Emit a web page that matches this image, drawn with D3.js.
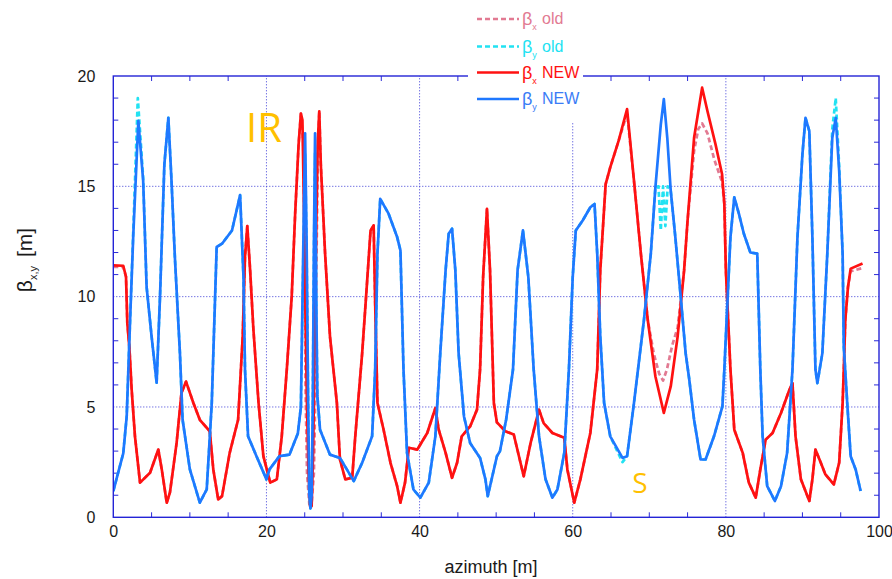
<!DOCTYPE html>
<html>
  <head>
    <meta charset="utf-8">
    <script src="https://d3js.org/d3.v7.min.js"></script>
    <title>Beta functions - old vs new lattice</title>
    <style>
      body {
        margin: 0px;
        background: #fff;
      }
      .domain {
        display: none;
      }
      .tick text {
        fill: #1a1a1a;
        font-size: 16px;
        font-family: "Liberation Sans", Arial, sans-serif;
      }
      .axis-label {
        fill: #1a1a1a;
        font-family: "Liberation Sans", Arial, sans-serif;
      }
      .grid {
        stroke: #3a3ad6;
        stroke-width: 1;
        stroke-dasharray: 1,2;
      }
      .minor {
        stroke: #2a2ad8;
        stroke-width: 1;
      }
      .curve {
        fill: none;
        stroke-width: 2.7;
        stroke-linejoin: round;
      }
    </style>
  </head>
  <body>
    <div id="viz1"></div>

    <script>

      // [azimuth m, beta m]
      const betaXNew = [
        [0, 11.42], [1.3, 11.4], [1.66, 10.9], [1.83, 8.8], [2.1, 7.7], [2.26, 6.7], [2.4, 5.78],
        [2.83, 3.67], [3.49, 1.57], [4.8, 2.02], [5.88, 3.07], [6.33, 2.17], [6.98, 0.66], [7.4, 1.13],
        [8.27, 3.37], [8.9, 5.63], [9.5, 6.15], [10.46, 5.18], [11.3, 4.42], [12.6, 3.9], [13.06, 2.17],
        [13.7, 0.81], [14.2, 0.96], [15.2, 2.92], [16.3, 4.42], [16.9, 8.19], [17.2, 11.8], [17.5, 13.2],
        [17.87, 11.2], [18.3, 8.5], [18.97, 5.18], [19.6, 2.77], [20.5, 1.57], [21.36, 1.72], [22.0, 3.67],
        [22.66, 6.7], [23.3, 10.0], [23.75, 13.76], [24.2, 16.9], [24.5, 18.3], [24.7, 18.0], [24.9, 14],
        [25.1, 9], [25.3, 5], [25.5, 2], [25.7, 0.5], [25.9, 0.5], [26.1, 3], [26.3, 8], [26.5, 13],
        [26.7, 17], [26.9, 18.4], [27.1, 16], [27.66, 11.95], [28.3, 8.19], [29.2, 5.18], [29.6, 2.62],
        [30.3, 1.72], [31.2, 1.79], [31.6, 3.67], [32.5, 7.43], [33.1, 10.44], [33.6, 13.0], [34.0, 13.23],
        [34.2, 9.7], [34.5, 5.18], [35.3, 3.97], [36.2, 2.47], [37.07, 1.41], [37.5, 0.66], [38.1, 1.57],
        [38.6, 3.15], [39.7, 3.07], [41.0, 3.82], [42.06, 4.95], [42.5, 3.97], [43.4, 2.92], [44.24, 1.79],
        [44.9, 2.47], [45.5, 3.67], [46.6, 4.12], [47.5, 4.88], [47.9, 6.7], [48.3, 10.9], [48.8, 13.98],
        [49.2, 11.2], [49.7, 5.18], [50.1, 4.3], [51.2, 3.9], [52.3, 3.75], [53.6, 1.86], [54.5, 3.37],
        [55.6, 4.88], [56.2, 4.27], [57.35, 3.82], [58.9, 3.6], [59.3, 2.17], [60.2, 0.66], [61.0, 1.72],
        [62.3, 3.82], [63.2, 6.7], [63.6, 11.2], [64.3, 15.1], [64.9, 15.86], [66.0, 17.07], [67.1, 18.5],
        [68.0, 15.26], [68.9, 11.95], [69.8, 8.94], [70.8, 6.38], [71.9, 4.73], [72.8, 5.93], [73.7, 8.19],
        [74.55, 11.2], [75.0, 13.45], [75.85, 17.2], [76.9, 19.47], [77.6, 18.4], [78.65, 16.9],
        [79.5, 15.56], [79.8, 14.2], [80.0, 11.2], [80.4, 8.19], [80.6, 6.7], [81.1, 3.97], [82.2, 2.92],
        [83.0, 1.57], [83.9, 0.89], [84.5, 2.17], [85.2, 3.52], [86.1, 3.82], [87.2, 4.73], [88.3, 5.78],
        [88.7, 6.08], [89.1, 3.67], [89.8, 1.72], [90.9, 0.74], [91.3, 1.72], [91.7, 3.07], [92.4, 2.47],
        [93.0, 1.94], [94.1, 1.49], [94.8, 2.47], [95.25, 5.18], [95.4, 6.7], [95.6, 8.94], [95.95, 10.44],
        [96.3, 11.27], [97.85, 11.5]
      ];

      const betaXOld = [
        [0, 11.35], [1.3, 11.35], [1.66, 10.9], [1.83, 8.8], [2.1, 7.7], [2.26, 6.7], [2.4, 5.78],
        [2.83, 3.67], [3.49, 1.57], [4.8, 2.02], [5.88, 3.07], [6.33, 2.17], [6.98, 0.66], [7.4, 1.13],
        [8.27, 3.37], [8.9, 5.63], [9.5, 6.15], [10.46, 5.18], [11.3, 4.42], [12.6, 3.9], [13.06, 2.17],
        [13.7, 0.81], [14.2, 0.96], [15.2, 2.92], [16.3, 4.42], [16.9, 8.19], [17.2, 11.8], [17.5, 13.2],
        [17.87, 11.2], [18.3, 8.5], [18.97, 5.18], [19.6, 2.77], [20.5, 1.57], [21.36, 1.72], [22.0, 3.67],
        [22.66, 6.7], [23.3, 10.0], [23.75, 13.76], [24.2, 16.9], [24.5, 18.3], [24.8, 17.0], [25.0, 12],
        [25.1, 6], [25.3, 2], [25.6, 0.6], [25.9, 0.6], [26.2, 2], [26.4, 6], [26.55, 12], [26.75, 17.2],
        [26.9, 18.4], [27.1, 16], [27.66, 11.95], [28.3, 8.19], [29.2, 5.18], [29.6, 2.62],
        [30.3, 1.72], [31.2, 1.79], [31.6, 3.67], [32.5, 7.43], [33.1, 10.44], [33.6, 13.0], [34.0, 13.23],
        [34.2, 9.7], [34.5, 5.18], [35.3, 3.97], [36.2, 2.47], [37.07, 1.41], [37.5, 0.66], [38.1, 1.57],
        [38.6, 3.15], [39.7, 3.07], [41.0, 3.82], [42.06, 4.95], [42.5, 3.97], [43.4, 2.92], [44.24, 1.79],
        [44.9, 2.47], [45.5, 3.67], [46.6, 4.12], [47.5, 4.88], [47.9, 6.7], [48.3, 10.9], [48.8, 13.98],
        [49.2, 11.2], [49.7, 5.18], [50.1, 4.3], [51.2, 3.9], [52.3, 3.75], [53.6, 1.86], [54.5, 3.37],
        [55.6, 4.88], [56.2, 4.27], [57.35, 3.82], [58.9, 3.6], [59.3, 2.17], [60.2, 0.66], [61.0, 1.72],
        [62.3, 3.82], [63.2, 6.7], [63.6, 11.2], [64.3, 15.1], [64.9, 15.86], [66.0, 17.07], [67.1, 18.3],
        [68.0, 15.26], [68.9, 11.95], [69.8, 8.94], [70.6, 7.4], [71.3, 6.5], [71.8, 6.2], [72.3, 6.7],
        [73.0, 7.8], [73.7, 8.6], [74.55, 11.2], [75.0, 13.45], [75.85, 16.6], [76.4, 17.6], [76.9, 17.85],
        [77.6, 17.4], [78.5, 16.2], [79.5, 15.2], [79.8, 14.2], [80.0, 11.2], [80.4, 8.19], [80.6, 6.7],
        [81.1, 3.97], [82.2, 2.92], [83.0, 1.57], [83.9, 0.89], [84.5, 2.17], [85.2, 3.52], [86.1, 3.82],
        [87.2, 4.73], [88.3, 5.78], [88.7, 6.08], [89.1, 3.67], [89.8, 1.72], [90.9, 0.74], [91.3, 1.72],
        [91.7, 3.07], [92.4, 2.47], [93.0, 1.94], [94.1, 1.49], [94.8, 2.47], [95.25, 5.18], [95.4, 6.7],
        [95.6, 8.94], [95.95, 10.44], [96.3, 11.15], [97.85, 11.3]
      ];

      const betaYNew = [
        [0, 1.19], [1.3, 2.9], [1.75, 4.57], [2.18, 8.8], [2.6, 12.7], [3.27, 17.97], [3.9, 15.26],
        [4.35, 10.44], [5.0, 8.2], [5.66, 6.1], [6.1, 10], [6.67, 16.0], [7.19, 18.1], [7.6, 15.26],
        [8.04, 11.8], [8.7, 7.45], [9.05, 4.42], [10.0, 2.17], [11.3, 0.66], [12.2, 1.26], [12.86, 5.18],
        [13.5, 12.25], [14.2, 12.4], [15.5, 13.0], [16.56, 14.6], [17.0, 10.9], [17.2, 6.7], [17.6, 3.67],
        [18.7, 2.77], [20.0, 1.72], [20.4, 2.17], [21.7, 2.77], [23.0, 2.84], [24.1, 3.8], [24.5, 5.0],
        [24.8, 12], [25.05, 17.4], [25.25, 12.4], [25.45, 5], [25.6, 1.0], [25.75, 0.4], [25.9, 1.0],
        [26.05, 5], [26.2, 12.4], [26.35, 17.4], [26.5, 10], [26.65, 5.5], [27.0, 3.97], [28.3, 2.84],
        [29.6, 2.69], [30.5, 2.17], [31.4, 1.64], [32.5, 2.47], [33.8, 3.67], [34.2, 6.7], [34.5, 11.95],
        [34.86, 14.43], [35.95, 13.76], [37.07, 12.7], [37.5, 12.1], [37.9, 6.7], [38.36, 2.92],
        [39.2, 1.26], [40.1, 0.89], [41.2, 1.57], [42.06, 3.67], [42.7, 7.43], [43.4, 11.2], [43.8, 12.85],
        [44.24, 13.08], [44.67, 11.2], [45.1, 7.43], [45.8, 4.57], [46.6, 3.37], [47.9, 2.69], [48.6, 1.72],
        [48.9, 0.96], [49.5, 1.86], [50.1, 2.77], [50.5, 3.0], [51.3, 4.42], [52.2, 6.7], [52.8, 11.2],
        [53.5, 13.0], [54.2, 10.9], [54.9, 6.7], [55.6, 3.67], [56.45, 1.72], [57.35, 0.89], [58.0, 1.26],
        [58.9, 2.92], [59.5, 6.7], [60.0, 10.9], [60.4, 13.0], [61.3, 13.45], [62.3, 14.05], [62.85, 14.2],
        [63.2, 11.95], [63.6, 8.19], [64.1, 5.18], [64.9, 3.67], [66.5, 2.69], [67.1, 2.77], [68.0, 5.18],
        [69.3, 8.94], [70.2, 11.95], [70.8, 14.96], [71.5, 17.8], [71.9, 18.95], [72.35, 17.2], [72.8, 14.8],
        [73.4, 12.7], [74.1, 10.0], [74.75, 7.43], [75.2, 6.3], [75.85, 4.42], [76.7, 2.62], [77.35, 2.62],
        [78.45, 3.67], [79.55, 5.03], [79.8, 6.7], [80.2, 9.7], [80.6, 12.7], [81.1, 14.5], [81.7, 13.76],
        [82.35, 12.85], [83.2, 12.0], [84.1, 11.95], [84.5, 6.7], [84.8, 3.67], [85.4, 1.41], [86.4, 0.74],
        [87.2, 1.41], [88.0, 2.92], [88.7, 6.7], [89.35, 12.7], [90.0, 16.46], [90.4, 18.1], [90.9, 17.5],
        [91.3, 12.7], [91.7, 6.7], [91.95, 6.08], [92.6, 7.43], [93.25, 11.95], [93.9, 17.2], [94.35, 18.1],
        [94.8, 15.7], [95.25, 11.95], [95.4, 7.73], [95.85, 5.18], [96.3, 2.77], [96.95, 2.17], [97.6, 1.19]
      ];

      const betaYOld = [
        [0, 1.19], [1.3, 2.9], [1.75, 4.57], [2.18, 8.8], [2.6, 12.9], [3.2, 19.0], [3.9, 15.4],
        [4.35, 10.44], [5.0, 8.2], [5.66, 6.1], [6.1, 10], [6.67, 16.0], [7.19, 18.1], [7.6, 15.26],
        [8.04, 11.8], [8.7, 7.45], [9.05, 4.42], [10.0, 2.17], [11.3, 0.66], [12.2, 1.26], [12.86, 5.18],
        [13.5, 12.25], [14.2, 12.4], [15.5, 13.0], [16.56, 14.6], [17.0, 10.9], [17.2, 6.7], [17.6, 3.67],
        [18.7, 2.77], [20.0, 1.72], [20.4, 2.17], [21.7, 2.77], [23.0, 2.84], [24.1, 3.8], [24.5, 5.0],
        [24.8, 11.5], [25.05, 16.5], [25.25, 12.0], [25.45, 5], [25.6, 1.0], [25.75, 0.4], [25.9, 1.0],
        [26.05, 5], [26.2, 12.0], [26.35, 16.5], [26.5, 10], [26.65, 5.5], [27.0, 3.97], [28.3, 2.84],
        [29.6, 2.69], [30.5, 2.17], [31.4, 1.64], [32.5, 2.47], [33.8, 3.67], [34.2, 6.7], [34.5, 11.95],
        [34.86, 14.43], [35.95, 13.76], [37.07, 12.7], [37.5, 12.1], [37.9, 6.7], [38.36, 2.92],
        [39.2, 1.26], [40.1, 0.89], [41.2, 1.57], [42.06, 3.67], [42.7, 7.43], [43.4, 11.2], [43.8, 12.85],
        [44.24, 13.08], [44.67, 11.2], [45.1, 7.43], [45.8, 4.57], [46.6, 3.37], [47.9, 2.69], [48.6, 1.72],
        [48.9, 0.96], [49.5, 1.86], [50.1, 2.77], [50.5, 3.0], [51.3, 4.42], [52.2, 6.7], [52.8, 11.2],
        [53.5, 13.0], [54.2, 10.9], [54.9, 6.7], [55.6, 3.67], [56.45, 1.72], [57.35, 0.89], [58.0, 1.26],
        [58.9, 2.92], [59.5, 6.7], [60.0, 10.9], [60.4, 13.0], [61.3, 13.45], [62.3, 14.05], [62.85, 14.2],
        [63.2, 11.95], [63.6, 8.19], [64.1, 5.18], [64.9, 3.67], [66.5, 2.5], [67.1, 2.77], [68.0, 5.18],
        [69.3, 8.94], [70.2, 11.95], [70.8, 14.96], [71.2, 15.0], [71.5, 13.0], [71.8, 15.0], [72.1, 13.2],
        [72.4, 15.0], [72.8, 14.8], [73.4, 12.7], [74.1, 10.0], [74.75, 7.43], [75.2, 6.3], [75.85, 4.42],
        [76.7, 2.62], [77.35, 2.62], [78.45, 3.67], [79.55, 5.03], [79.8, 6.7], [80.2, 9.7], [80.6, 12.7],
        [81.1, 14.5], [81.7, 13.76], [82.35, 12.85], [83.2, 12.0], [84.1, 11.95], [84.5, 6.7], [84.8, 3.67],
        [85.4, 1.41], [86.4, 0.74], [87.2, 1.41], [88.0, 2.92], [88.7, 6.7], [89.35, 12.7], [90.0, 16.46],
        [90.4, 18.1], [90.9, 17.5], [91.3, 12.7], [91.7, 6.7], [91.95, 6.08], [92.6, 7.43], [93.25, 11.95],
        [93.9, 17.6], [94.35, 19.0], [94.8, 15.9], [95.25, 11.95], [95.4, 7.73], [95.85, 5.18], [96.3, 2.77],
        [96.95, 2.17], [97.6, 1.19]
      ];

      // axis ticks
      const xTicks = [0, 20, 40, 60, 80, 100];
      const yTicks = [0, 5, 10, 15, 20];
      const xGrid = [20, 40, 60, 80];
      const yGrid = [5, 10, 15];

      // legend entries, drawn top to bottom
      const legendNames = ['old', 'old', 'NEW', 'NEW'];
      const legendSubs = ['x', 'y', 'x', 'y'];

      const series = [
        { data: betaXOld, color: '#e27a92', dash: '5,3' },
        { data: betaYOld, color: '#22e2f2', dash: '5,3' },
        { data: betaXNew, color: '#ff1111', dash: null },
        { data: betaYNew, color: '#1f78ff', dash: null }
      ];

      const width = 892;
      const height = 579;
      const margin = { left: 113.3, right: 13, top: 76, bottom: 61.7 };

      const svg = d3.select('#viz1').append('svg')
        .attr('width', width)
        .attr('height', height);

      const xScale = d3.scaleLinear()
        .domain([0, 100])
        .range([margin.left, width - margin.right]);

      const yScale = d3.scaleLinear()
        .domain([0, 20])
        .range([height - margin.bottom, margin.top]);

      const x0 = xScale(0), x1 = xScale(100);
      const y0 = yScale(0), y1 = yScale(20);

      // dotted grid
      svg.selectAll('.gx').data(xGrid).enter().append('line')
        .attr('class', 'grid')
        .attr('x1', d => xScale(d)).attr('x2', d => xScale(d))
        .attr('y1', y0).attr('y2', y1);

      svg.selectAll('.gy').data(yGrid).enter().append('line')
        .attr('class', 'grid')
        .attr('y1', d => yScale(d)).attr('y2', d => yScale(d))
        .attr('x1', x0).attr('x2', x1);

      // minor ticks, inward on all four sides
      const xMinor = d3.range(5, 100, 5).filter(v => v % 20 !== 0);
      const yMinor = d3.range(1, 20, 1).filter(v => v % 5 !== 0);
      const tl = 5;

      xMinor.forEach(v => {
        svg.append('line').attr('class', 'minor')
          .attr('x1', xScale(v)).attr('x2', xScale(v)).attr('y1', y0).attr('y2', y0 - tl);
        svg.append('line').attr('class', 'minor')
          .attr('x1', xScale(v)).attr('x2', xScale(v)).attr('y1', y1).attr('y2', y1 + tl);
      });
      yMinor.forEach(v => {
        svg.append('line').attr('class', 'minor')
          .attr('y1', yScale(v)).attr('y2', yScale(v)).attr('x1', x0).attr('x2', x0 + tl);
        svg.append('line').attr('class', 'minor')
          .attr('y1', yScale(v)).attr('y2', yScale(v)).attr('x1', x1).attr('x2', x1 - tl);
      });

      // curves
      svg.append('clipPath').attr('id', 'plot-clip')
        .append('rect')
        .attr('x', x0).attr('y', y1)
        .attr('width', x1 - x0).attr('height', y0 - y1);

      const line = d3.line()
        .x(d => xScale(d[0]))
        .y(d => yScale(d[1]));

      const curvesG = svg.append('g').attr('clip-path', 'url(#plot-clip)');

      curvesG.selectAll('path').data(series).enter().append('path')
        .attr('class', 'curve')
        .attr('d', d => line(d.data))
        .attr('stroke', d => d.color)
        .attr('stroke-dasharray', d => d.dash);

      // frame
      svg.append('rect')
        .attr('x', x0).attr('y', y1)
        .attr('width', x1 - x0).attr('height', y0 - y1)
        .attr('fill', 'none')
        .attr('stroke', '#2424d6')
        .attr('stroke-width', 1.4);

      // tick labels
      const xAxis = d3.axisBottom(xScale)
        .tickValues(xTicks)
        .tickSize(0)
        .tickPadding(8.5);

      const yAxis = d3.axisLeft(yScale)
        .tickValues(yTicks)
        .tickSize(0)
        .tickPadding(18);

      svg.append('g')
        .attr('transform', `translate(0, ${y0})`)
        .call(xAxis);

      svg.append('g')
        .attr('transform', `translate(${x0}, 0)`)
        .call(yAxis);

      // axis labels
      svg.append('text')
        .attr('class', 'axis-label')
        .attr('x', 491)
        .attr('y', 573)
        .attr('text-anchor', 'middle')
        .style('font-size', '18px')
        .text('azimuth [m]');

      const yLab = svg.append('text')
        .attr('class', 'axis-label')
        .attr('transform', 'translate(32, 260) rotate(-90)')
        .attr('text-anchor', 'middle')
        .style('font-size', '21px');
      yLab.append('tspan').text('β');
      yLab.append('tspan').attr('dy', 5).style('font-size', '11px').text('x,y');
      yLab.append('tspan').attr('dy', -5).attr('dx', 9).text('[m]');

      // region labels
      svg.append('text')
        .attr('x', 246).attr('y', 142)
        .attr('fill', '#ffc000')
        .style('font-family', '"Open Sans", sans-serif')
        .style('font-size', '40px')
        .text('IR');

      svg.append('text')
        .attr('x', 640).attr('y', 493)
        .attr('text-anchor', 'middle')
        .attr('fill', '#ffc000')
        .style('font-family', '"Open Sans", sans-serif')
        .style('font-size', '28px')
        .text('S');

      // legend sits on a white box over the top border
      const legendG = svg.append('g');
      legendG.append('rect')
        .attr('x', 468).attr('y', 0)
        .attr('width', 115).attr('height', 122)
        .attr('fill', '#fff');

      const rowY = [19, 46.5, 72.5, 99];
      const textColors = ['#e27a92', '#22e2f2', '#ff1111', '#3a7cf6'];

      series.forEach((s, i) => {
        const ry = rowY[i];
        legendG.append('line')
          .attr('x1', 477).attr('x2', 519)
          .attr('y1', ry).attr('y2', ry)
          .attr('stroke', s.color)
          .attr('stroke-width', 2.6)
          .attr('stroke-dasharray', s.dash);

        const t = legendG.append('text')
          .attr('x', 522).attr('y', ry + 6)
          .attr('fill', textColors[i])
          .style('font-family', '"Liberation Sans", Arial, sans-serif')
          .style('font-size', '18px');
        t.append('tspan').text('β');
        t.append('tspan').attr('dy', 5).style('font-size', '9px').text(legendSubs[i]);
        t.append('tspan').attr('x', 542).attr('dy', -6).style('font-size', '16px').text(legendNames[i]);
      });

    </script>
  </body>
</html>
